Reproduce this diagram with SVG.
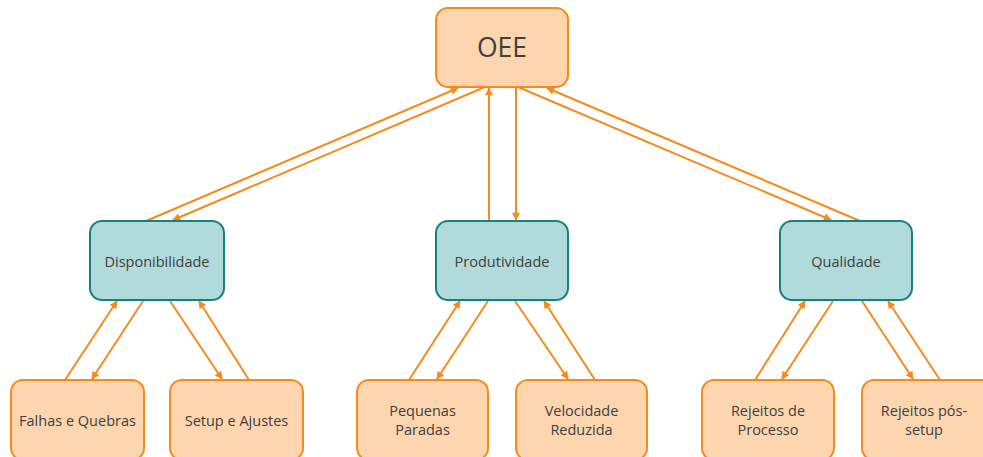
<svg xmlns="http://www.w3.org/2000/svg" width="983" height="457" viewBox="0 0 983 457">
<style>
.o rect{fill:#FDD6B0;stroke:#F88A1C;stroke-width:2}
.t rect{fill:#B1DADA;stroke:#16817F;stroke-width:2}
text{font-family:"Open Sans","Noto Sans","Liberation Sans",sans-serif;fill:#404040;text-anchor:middle;dominant-baseline:central;font-size:14.5px}
.big{font-size:26.5px}
#connectors line{stroke:#F88A1C;stroke-width:2;marker-end:url(#a)}
</style>
<defs>
<marker id="a" viewBox="0 0 10 10" refX="9" refY="5" markerWidth="9" markerHeight="8" markerUnits="userSpaceOnUse" orient="auto">
<path d="M0,0 L10,5 L0,10 z" fill="#F88A1C"/>
</marker>
</defs>
<rect width="983" height="457" fill="#fff"/>
<g id="connectors">
<line x1="146" y1="221" x2="458" y2="88"/>
<line x1="485" y1="87" x2="173" y2="220"/>
<line x1="489" y1="221" x2="489" y2="88"/>
<line x1="516" y1="87" x2="516" y2="220"/>
<line x1="518" y1="87" x2="831" y2="220"/>
<line x1="860" y1="221" x2="547" y2="88"/>
<line x1="65" y1="380" x2="117" y2="301"/>
<line x1="143" y1="301" x2="92" y2="379"/>
<line x1="170" y1="301" x2="222" y2="379"/>
<line x1="249" y1="380" x2="199" y2="301"/>
<line x1="409" y1="380" x2="460" y2="301"/>
<line x1="488" y1="301" x2="437" y2="379"/>
<line x1="515" y1="301" x2="568" y2="379"/>
<line x1="595" y1="380" x2="544" y2="301"/>
<line x1="755" y1="380" x2="805" y2="301"/>
<line x1="833" y1="301" x2="782" y2="379"/>
<line x1="862" y1="301" x2="913" y2="379"/>
<line x1="940" y1="380" x2="888" y2="301"/>
</g>
<g id="oee" class="o"><rect x="436" y="8" width="132" height="79" rx="12"/><text class="big" x="502" y="47">OEE</text></g>
<g id="disponibilidade" class="t"><rect x="90" y="221" width="134" height="79" rx="12"/><text x="157" y="261">Disponibilidade</text></g>
<g id="produtividade" class="t"><rect x="436" y="221" width="132" height="79" rx="12"/><text x="502" y="261">Produtividade</text></g>
<g id="qualidade" class="t"><rect x="780" y="221" width="132" height="79" rx="12"/><text x="846" y="261">Qualidade</text></g>
<g id="falhas" class="o"><rect x="11" y="380" width="133" height="80" rx="12"/><text x="77.5" y="420">Falhas e Quebras</text></g>
<g id="setup" class="o"><rect x="170" y="380" width="133" height="80" rx="12"/><text x="236.5" y="420">Setup e Ajustes</text></g>
<g id="pequenas" class="o"><rect x="357" y="380" width="131" height="80" rx="12"/><text x="422.5" y="410">Pequenas</text><text x="422.5" y="429">Paradas</text></g>
<g id="velocidade" class="o"><rect x="516" y="380" width="131" height="80" rx="12"/><text x="581.5" y="410">Velocidade</text><text x="581.5" y="429">Reduzida</text></g>
<g id="rejeitos-processo" class="o"><rect x="702" y="380" width="132" height="80" rx="12"/><text x="768" y="410">Rejeitos de</text><text x="768" y="429">Processo</text></g>
<g id="rejeitos-setup" class="o"><rect x="862" y="380" width="132" height="80" rx="12"/><text x="924" y="410">Rejeitos pós-</text><text x="924" y="429">setup</text></g>
</svg>
